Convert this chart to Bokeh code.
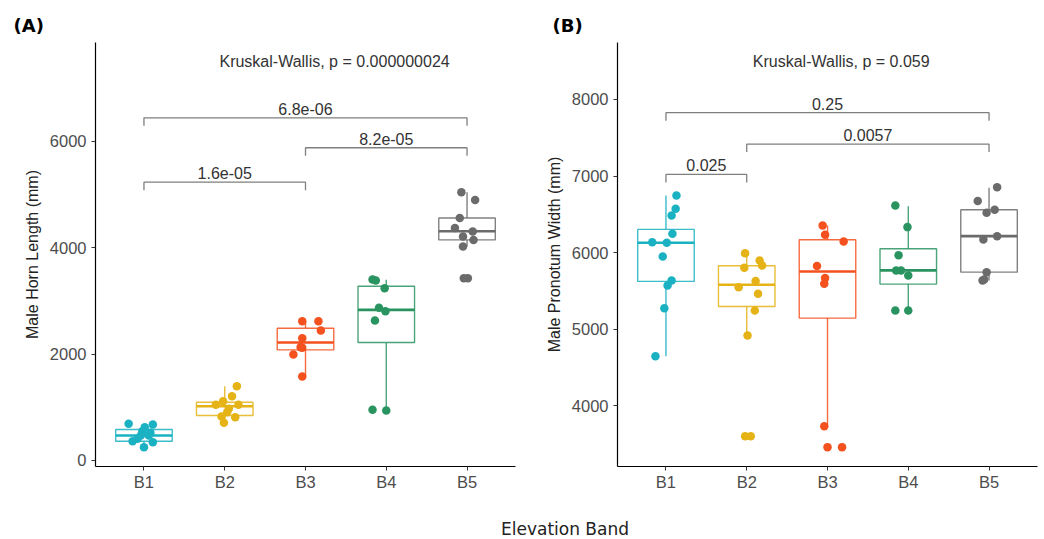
from bokeh.plotting import figure
from bokeh.models import ColumnDataSource, FixedTicker, Range1d, Div, Title
from bokeh.layouts import row, column
from bokeh.embed import file_html
from bokeh.resources import INLINE
from bokeh.core.properties import value

cats = ["B1", "B2", "B3", "B4", "B5"]
colors = ["#1AB2C2", "#E5B316", "#F4511E", "#2A9461", "#6B6B6B"]

# ---- Panel A: Male Horn Length ----
horn_q1 = [363, 846, 2080, 2218, 4149]
horn_med = [470, 1020, 2218, 2833, 4311]
horn_q3 = [583, 1096, 2487, 3277, 4562]
horn_lo = [250, 709, 1580, 940, 4023]
horn_hi = [690, 1398, 2620, 3400, 5044]
horn_pts = [
    [690, 677, 626, 551, 470, 470, 363, 344, 250, 520, 410],
    [1398, 1209, 1115, 1048, 1048, 972, 909, 828, 814, 709],
    [2620, 2620, 2445, 2300, 2131, 2120, 1994, 1580],
    [3403, 3384, 3239, 2871, 2807, 2632, 953, 940],
    [5044, 4901, 4562, 4374, 4305, 4211, 4149, 4023, 3427, 3427],
]
horn_jit = [
    [-0.19, 0.11, 0.01, -0.02, 0.06, -0.04, -0.14, 0.11, 0.0, 0.08, -0.08],
    [0.15, 0.09, -0.02, 0.17, -0.11, 0.05, 0.03, -0.04, 0.13, -0.01],
    [-0.04, 0.16, 0.19, -0.04, -0.06, -0.04, -0.15, -0.04],
    [-0.17, -0.13, -0.02, -0.09, -0.01, -0.14, -0.17, 0.0],
    [-0.07, 0.10, -0.09, -0.15, 0.07, -0.05, 0.08, -0.05, -0.04, 0.01],
]
horn_br_from = [1, 1, 3]
horn_br_to = [3, 5, 5]
horn_br_y = [5235, 6446, 5882]
horn_br_lab = ["1.6e-05", "6.8e-06", "8.2e-05"]
horn_kw = "Kruskal-Wallis, p = 0.000000024"
horn_kw_y = 7505

# ---- Panel B: Male Pronotum Width ----
pron_q1 = [5624, 5297, 5145, 5589, 5745]
pron_med = [6129, 5581, 5754, 5768, 6215]
pron_q3 = [6303, 5829, 6168, 6051, 6560]
pron_lo = [4648, 4919, 3734, 5245, 5637]
pron_hi = [6747, 5993, 6355, 6607, 6848]
pron_pts = [
    [6747, 6573, 6486, 6247, 6137, 6129, 5950, 5637, 5572, 5275, 4648],
    [5993, 5898, 5833, 5803, 5628, 5549, 5463, 5245, 4919, 3603, 3603],
    [6355, 6234, 6146, 5824, 5667, 5594, 3734, 3460, 3460],
    [6616, 6333, 5967, 5768, 5768, 5702, 5245, 5245],
    [6855, 6673, 6521, 6560, 6172, 6215, 5745, 5637, 5650],
]
pron_jit = [
    [0.13, 0.12, 0.07, 0.08, -0.17, 0.01, -0.04, 0.07, 0.02, -0.02, -0.13],
    [-0.02, 0.16, 0.19, -0.03, 0.11, -0.10, 0.14, 0.10, 0.01, -0.02, 0.05],
    [-0.06, -0.03, 0.20, -0.13, -0.03, -0.04, -0.04, 0.0, 0.18],
    [-0.16, -0.01, -0.12, -0.15, -0.09, 0.0, -0.16, 0.0],
    [0.10, -0.14, -0.03, 0.07, -0.07, 0.10, -0.03, -0.08, -0.06],
]
pron_br_from = [1, 1, 2]
pron_br_to = [2, 5, 5]
pron_br_y = [7021, 7827, 7417]
pron_br_lab = ["0.025", "0.25", "0.0057"]
pron_kw = "Kruskal-Wallis, p = 0.059"
pron_kw_y = 8497

FONT = "Liberation Sans"
BOX_W = 0.7


def panel(tag, tag_off, ylabel, yr, yticks, q1, med, q3, lo, hi, pts, jit,
          bfrom, bto, by, blab, kw, kw_y, kw_x, tick_h, width, left, right):
    p = figure(width=width, height=500, output_backend="svg", toolbar_location=None,
               x_range=Range1d(0.4, 5.6), y_range=Range1d(*yr),
               min_border_left=left, min_border_right=right,
               min_border_top=42, min_border_bottom=34)
    p.title = Title(text=tag, text_font="DejaVu Sans", text_font_size="18px",
                    text_font_style="bold", offset=tag_off, standoff=13,
                    text_color="black")
    p.grid.visible = False
    p.outline_line_color = None
    xs = list(range(1, 6))
    src = ColumnDataSource(dict(x=xs, q1=q1, med=med, q3=q3, lo=lo, hi=hi,
                                xl=[v - BOX_W / 2 for v in xs], xr=[v + BOX_W / 2 for v in xs],
                                c=colors))
    p.segment(x0="x", y0="q3", x1="x", y1="hi", line_color="c", line_width=1.4,
              line_alpha=0.85, source=src)
    p.segment(x0="x", y0="q1", x1="x", y1="lo", line_color="c", line_width=1.4,
              line_alpha=0.85, source=src)
    p.quad(left="xl", right="xr", bottom="q1", top="q3", fill_color="white",
           line_color="c", line_width=1.4, line_alpha=0.85, source=src)
    p.segment(x0="xl", y0="med", x1="xr", y1="med", line_color="c", line_width=2.6,
              source=src)
    px, py, pc = [], [], []
    for i in range(5):
        for v, j in zip(pts[i], jit[i]):
            px.append(xs[i] + j)
            py.append(v)
            pc.append(colors[i])
    p.scatter(x=px, y=py, color=pc, size=8.5, line_width=0)
    # brackets
    bxs, bys = [], []
    for a, b, y in zip(bfrom, bto, by):
        bxs.append([a, a, b, b])
        bys.append([y - tick_h, y, y, y - tick_h])
    p.multi_line(xs=bxs, ys=bys, line_color="#7F7F7F", line_width=1.3)
    p.text(x=[(a + b) / 2 for a, b in zip(bfrom, bto)], y=by, text=blab,
           text_align="center", text_baseline="bottom", y_offset=-3,
           text_font=value(FONT), text_font_size="16px", text_color="#333333")
    p.text(x=[kw_x], y=[kw_y], text=[kw], text_align="center", text_baseline="middle",
           text_font=value(FONT), text_font_size="16px", text_color="#333333")
    # axes
    p.xaxis.ticker = FixedTicker(ticks=xs)
    p.xaxis.major_label_overrides = {i + 1: c for i, c in enumerate(cats)}
    p.yaxis.ticker = FixedTicker(ticks=yticks)
    p.yaxis.axis_label = ylabel
    for ax in (p.xaxis[0], p.yaxis[0]):
        ax.axis_line_color = "black"
        ax.axis_line_width = 1.2
        ax.major_tick_line_color = "#333333"
        ax.major_tick_out = 4
        ax.major_tick_in = 0
        ax.minor_tick_line_color = None
        ax.major_label_text_font = FONT
        ax.major_label_text_font_size = "16.5px"
        ax.major_label_text_color = "#4D4D4D"
        ax.axis_label_text_font = FONT
        ax.axis_label_text_font_size = "16px"
        ax.axis_label_text_font_style = "normal"
        ax.axis_label_text_color = "#222222"
    p.yaxis.major_label_standoff = 5
    p.xaxis.major_label_standoff = 2
    p.yaxis.axis_label_standoff = 6
    return p


pA = panel("(A)", -82, "Male Horn Length (mm)", (-113, 7862), [0, 2000, 4000, 6000],
           horn_q1, horn_med, horn_q3, horn_lo, horn_hi, horn_pts, horn_jit,
           horn_br_from, horn_br_to, horn_br_y, horn_br_lab, horn_kw, horn_kw_y, 3.36,
           150, 520, 95, 5)
pB = panel("(B)", -65, "Male Pronotum Width (mm)", (3207, 8744), [4000, 5000, 6000, 7000, 8000],
           pron_q1, pron_med, pron_q3, pron_lo, pron_hi, pron_pts, pron_jit,
           pron_br_from, pron_br_to, pron_br_y, pron_br_lab, pron_kw, pron_kw_y, 3.17,
           104, 524, 97, 7)

xlab = Div(text="Elevation Band", width=1044, height=39,
           styles={"font-family": "DejaVu Sans", "font-size": "17px", "color": "#222222",
                   "padding-left": "496px", "padding-top": "12px", "box-sizing": "border-box"})

layout = column(row(pA, pB), xlab)
open("out.html", "w").write(file_html(layout, INLINE))
